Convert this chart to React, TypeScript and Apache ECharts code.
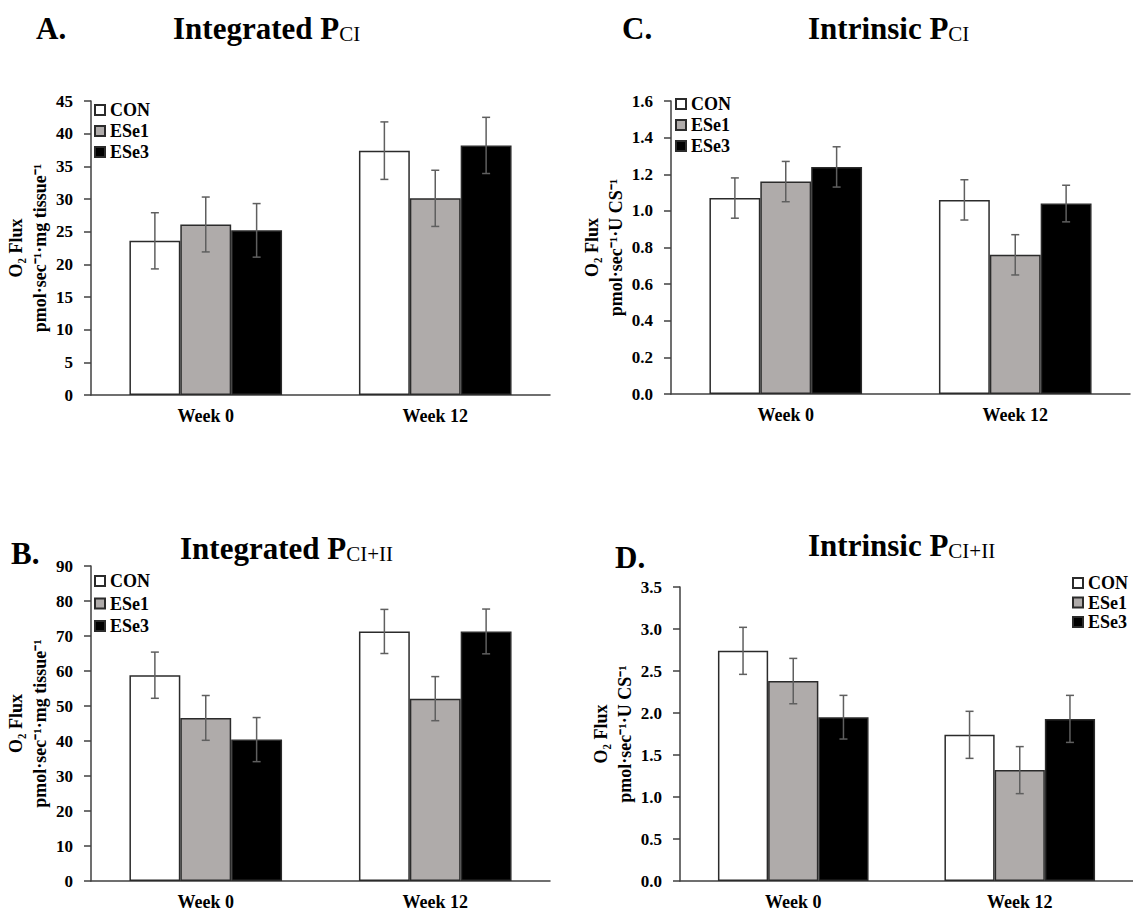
import React, { useEffect, useRef } from 'react';
import * as echarts from 'echarts';

// ---------- data ----------
const categories = ['Week 0', 'Week 12'];
const groupNames = ['CON', 'ESe1', 'ESe3'];

// Panel A: Integrated PCI
const aCON = [23.6, 37.4];
const aESe1 = [26.1, 30.1];
const aESe3 = [25.2, 38.2];
const aErrCON = [4.3, 4.4];
const aErrESe1 = [4.2, 4.3];
const aErrESe3 = [4.1, 4.3];
const aTicks = { min: 0, max: 45, interval: 5 };

// Panel C: Intrinsic PCI
const cCON = [1.07, 1.06];
const cESe1 = [1.16, 0.76];
const cESe3 = [1.24, 1.04];
const cErrCON = [0.11, 0.11];
const cErrESe1 = [0.11, 0.11];
const cErrESe3 = [0.11, 0.1];
const cTicks = { min: 0, max: 1.6, interval: 0.2 };

// Panel B: Integrated PCI+II
const bCON = [58.8, 71.3];
const bESe1 = [46.6, 52.1];
const bESe3 = [40.4, 71.3];
const bErrCON = [6.6, 6.3];
const bErrESe1 = [6.4, 6.3];
const bErrESe3 = [6.3, 6.4];
const bTicks = { min: 0, max: 90, interval: 10 };

// Panel D: Intrinsic PCI+II
const dCON = [2.74, 1.74];
const dESe1 = [2.38, 1.32];
const dESe3 = [1.95, 1.93];
const dErrCON = [0.28, 0.28];
const dErrESe1 = [0.27, 0.28];
const dErrESe3 = [0.26, 0.28];
const dTicks = { min: 0, max: 3.5, interval: 0.5 };

const unitTissue = 'pmol·sec⁻¹·mg tissue⁻¹';
const unitCS = 'pmol·sec⁻¹·U CS⁻¹';

// ---------- styling ----------
const FONT = "'Liberation Serif', 'Times New Roman', serif";
const barColors = ['#ffffff', '#afabaa', '#000000'];
const AXIS = '#404040';
const BAR_GAP_CAT = 0.335;

const panels = [
  {
    values: [aCON, aESe1, aESe3], errs: [aErrCON, aErrESe1, aErrESe3], ticks: aTicks, decimals: 0,
    unit: unitTissue,
    grid: { left: 91, top: 101, width: 459, height: 294 }, nameGap: 37,
    legend: { left: 94, top: 101, itemGap: 3 },
  },
  {
    values: [cCON, cESe1, cESe3], errs: [cErrCON, cErrESe1, cErrESe3], ticks: cTicks, decimals: 1,
    unit: unitCS,
    grid: { left: 671, top: 101, width: 459, height: 293 }, nameGap: 42,
    legend: { left: 675, top: 95, itemGap: 3 },
  },
  {
    values: [bCON, bESe1, bESe3], errs: [bErrCON, bErrESe1, bErrESe3], ticks: bTicks, decimals: 0,
    unit: unitTissue,
    grid: { left: 91, top: 566, width: 459, height: 315 }, nameGap: 37,
    legend: { left: 94, top: 572, itemGap: 4.5 },
  },
  {
    values: [dCON, dESe1, dESe3], errs: [dErrCON, dErrESe1, dErrESe3], ticks: dTicks, decimals: 1,
    unit: unitCS,
    grid: { left: 680, top: 587, width: 463, height: 294 }, nameGap: 42,
    legend: { left: 1072, top: 574, itemGap: 1.5 },
  },
];

const titles = [
  { label: 'A.', x: 36, y: 28, main: 'Integrated P', sub: 'CI', tx: 173, ty: 28 },
  { label: 'C.', x: 622, y: 28, main: 'Intrinsic P', sub: 'CI', tx: 808, ty: 28 },
  { label: 'B.', x: 11, y: 553, main: 'Integrated P', sub: 'CI+II', tx: 180, ty: 548 },
  { label: 'D.', x: 615, y: 557, main: 'Intrinsic P', sub: 'CI+II', tx: 808, ty: 545 },
];

function buildOption() {
  const grid: any[] = [];
  const xAxis: any[] = [];
  const yAxis: any[] = [];
  const series: any[] = [];
  const legend: any[] = [];
  const graphic: any[] = [];

  panels.forEach((p, i) => {
    grid.push({ ...p.grid, containLabel: false });
    xAxis.push({
      type: 'category',
      gridIndex: i,
      data: categories,
      axisLine: { show: true, lineStyle: { color: AXIS, width: 1.5 } },
      axisTick: { show: false },
      axisLabel: { color: '#000', fontFamily: FONT, fontWeight: 'bold', fontSize: 18, margin: 12 },
      splitLine: { show: false },
    });
    yAxis.push({
      type: 'value',
      gridIndex: i,
      min: p.ticks.min,
      max: p.ticks.max,
      interval: p.ticks.interval,
      axisLine: { show: true, lineStyle: { color: AXIS, width: 1.5 } },
      axisTick: { show: true, inside: false, length: 7, lineStyle: { color: AXIS, width: 1.5 } },
      splitLine: { show: false },
      axisLabel: {
        color: '#000', fontFamily: FONT, fontWeight: 'bold', fontSize: 17, margin: 18,
        formatter: (v: number) => v.toFixed(p.decimals),
      },
      name: 'O₂ Flux\n' + p.unit,
      nameLocation: 'middle',
      nameRotate: 90,
      nameGap: p.nameGap,
      nameTextStyle: { color: '#000', fontFamily: FONT, fontWeight: 'bold', fontSize: 18, lineHeight: 24 },
    });
    groupNames.forEach((g, gi) => {
      series.push({
        type: 'bar',
        name: g,
        xAxisIndex: i,
        yAxisIndex: i,
        data: p.values[gi],
        barGap: '0%',
        barCategoryGap: BAR_GAP_CAT * 100 + '%',
        itemStyle: { color: barColors[gi], borderColor: '#2b2b2b', borderWidth: 1.5 },
        emphasis: { disabled: true },
        silent: true,
      });
    });
    const errData: number[][] = [];
    groupNames.forEach((g, gi) => {
      categories.forEach((c, ci) => {
        errData.push([ci, gi, p.values[gi][ci], p.errs[gi][ci]]);
      });
    });
    series.push({
      type: 'custom',
      name: 'err' + i,
      xAxisIndex: i,
      yAxisIndex: i,
      z: 10,
      silent: true,
      encode: { x: 0, y: 2 },
      data: errData,
      renderItem: (params: any, api: any) => {
        const ci = api.value(0);
        const gi = api.value(1);
        const v = api.value(2);
        const e = api.value(3);
        const band = api.size([1, 0])[0];
        const groupW = band * (1 - BAR_GAP_CAT);
        const bw = groupW / 3;
        const cx = api.coord([ci, 0])[0] - groupW / 2 + bw * (gi + 0.5);
        const yT = api.coord([ci, v + e])[1];
        const yB = api.coord([ci, v - e])[1];
        const st = { stroke: '#5f5f5f', lineWidth: 1.5 };
        return {
          type: 'group',
          children: [
            { type: 'line', shape: { x1: cx, y1: yT, x2: cx, y2: yB }, style: st },
            { type: 'line', shape: { x1: cx - 4, y1: yT, x2: cx + 4, y2: yT }, style: st },
            { type: 'line', shape: { x1: cx - 4, y1: yB, x2: cx + 4, y2: yB }, style: st },
          ],
        };
      },
    });
    legend.push({
      data: groupNames,
      orient: 'vertical',
      left: p.legend.left,
      top: p.legend.top,
      itemGap: p.legend.itemGap,
      itemWidth: 10,
      itemHeight: 10,
      icon: 'rect',
      padding: 0,
      selectedMode: false,
      textStyle: { color: '#000', fontFamily: FONT, fontWeight: 'bold', fontSize: 18, lineHeight: 18 },
    });
  });

  titles.forEach((t) => {
    graphic.push({
      type: 'text',
      x: t.x,
      y: t.y,
      style: {
        text: t.label,
        font: `bold 31px ${FONT}`,
        fill: '#000',
        align: 'left', verticalAlign: 'middle',
        textAlign: 'left', textVerticalAlign: 'middle',
      },
    });
    graphic.push({
      type: 'text',
      x: t.tx,
      y: t.ty,
      style: {
        text: `{m|${t.main}}{s|${t.sub}}`,
        fill: '#000',
        align: 'left', verticalAlign: 'middle',
        textAlign: 'left', textVerticalAlign: 'middle',
        rich: {
          m: { fontFamily: FONT, fontWeight: 'bold', fontSize: 31, lineHeight: 32, verticalAlign: 'bottom', fill: '#000', color: '#000' },
          s: { fontFamily: FONT, fontWeight: 'normal', fontSize: 21, lineHeight: 23, verticalAlign: 'bottom', fill: '#000', color: '#000' },
        },
      },
    });
  });

  return {
    animation: false,
    backgroundColor: '#ffffff',
    grid, xAxis, yAxis, series, legend, graphic,
  };
}

export default function App() {
  const ref = useRef<HTMLDivElement>(null);
  useEffect(() => {
    if (!ref.current) return;
    const chart = echarts.init(ref.current, undefined, { renderer: 'svg' });
    chart.setOption(buildOption() as any);
    return () => chart.dispose();
  }, []);
  return (
    <div
      ref={ref}
      style={{ position: 'absolute', left: 0, top: 0, width: 1133, height: 913, overflow: 'hidden' }}
    />
  );
}
